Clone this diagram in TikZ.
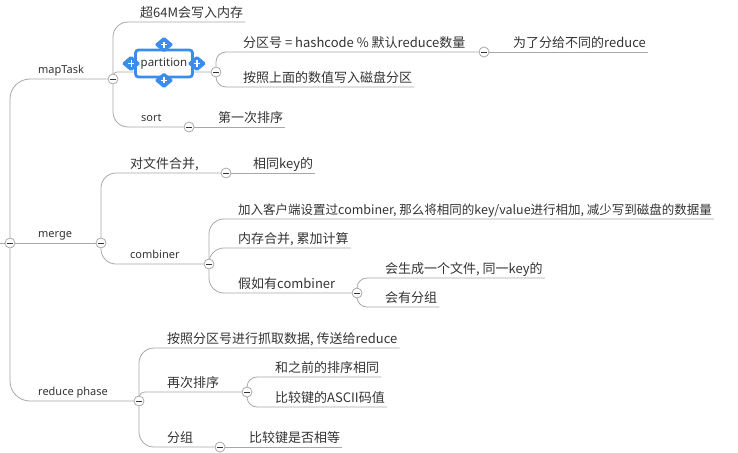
\documentclass[tikz,border=0pt]{standalone}
\usepackage{fontspec}
\setmainfont{Noto Sans CJK SC}
\newfontfamily\labelfont{Noto Sans}
\usepackage{tikz}
\usetikzlibrary{shapes.geometric,backgrounds}

\definecolor{linegray}{HTML}{A8A8A8}
\definecolor{textgray}{HTML}{333333}
\definecolor{selblue}{HTML}{3C8CEC}

\begin{document}
\begin{tikzpicture}[
    x=1pt, y=-1pt,
    topic/.style={anchor=south west, inner xsep=2pt, inner ysep=0pt, text depth=4pt, text=textgray, font=\fontsize{13}{13}\selectfont},
    sub/.style={anchor=south west, inner xsep=2pt, inner ysep=0pt, text depth=5pt, text=textgray, font=\labelfont\fontsize{11}{11}\selectfont},
    fold/.style={circle, draw=linegray, fill=white, line width=0.8pt, minimum size=10pt, inner sep=0pt,
        path picture={\draw[textgray, line width=0.9pt] ([xshift=-2.6pt]path picture bounding box.center) -- ([xshift=2.6pt]path picture bounding box.center);}},
    branch/.style={draw=linegray, line width=0.8pt, rounded corners=15pt},
    handle/.style={diamond, fill=selblue, rounded corners=1.5pt, minimum width=19pt, minimum height=16pt, inner sep=0pt,
        path picture={\draw[white, line width=1.2pt] ([xshift=-3pt]path picture bounding box.center) -- ([xshift=3pt]path picture bounding box.center)
            ([yshift=-3pt]path picture bounding box.center) -- ([yshift=3pt]path picture bounding box.center);}}
]
\useasboundingbox (0,0) rectangle (738,452);

% root
\coordinate (rootin) at (0,243);
\node[fold] (root) at (10,243) {};

% mapTask
\node[sub] (maptask) at (36,79) {mapTask};
\node[fold] (c-map) at (113,79) {};
\node[topic] (t-mem) at (138,22) {超64M会写入内存};
\node[fold] (c-part) at (216,72) {};
\node[draw=selblue, line width=2.8pt, fill=white, rounded corners=3pt, minimum width=57pt, minimum height=27pt,
    inner sep=1pt, text=textgray, font=\labelfont\fontsize{11.5}{11.5}\selectfont] (part) at (164,63.5) {partition};
\node[handle] (h-top) at ([yshift=4pt]part.north) {};
\node[handle] (h-bot) at ([yshift=-2pt]part.south) {};
\node[handle] (h-left) at ([xshift=-3pt]part.west) {};
\node[handle] (h-right) at ([xshift=3pt]part.east) {};
\node[topic] (t-hash) at (241,52) {分区号 = hashcode \% 默认reduce数量};
\node[fold] (c-hash) at (484,52) {};
\node[topic] (t-diff) at (511,52) {为了分给不同的reduce};
\node[topic] (t-disk) at (241,87) {按照上面的数值写入磁盘分区};
\node[sub] (sort) at (139,127) {sort};
\node[fold] (c-sort) at (189,127) {};
\node[topic] (t-first) at (216,127) {第一次排序};

% merge
\node[sub] (merge) at (36,243) {merge};
\node[fold] (c-merge) at (101,243) {};
\node[topic] (t-file) at (128,173) {对文件合并,};
\node[fold] (c-file) at (226,173) {};
\node[topic] (t-key) at (251,173) {相同key的};
\node[sub] (comb) at (128,264) {combiner};
\node[fold] (c-comb) at (209,264) {};
\node[topic, font=\fontsize{12.5}{12.5}\selectfont] (t-add) at (236,219) {加入客户端设置过combiner, 那么将相同的key/value进行相加, 减少写到磁盘的数据量};
\node[topic] (t-sum) at (236,248) {内存合并, 累加计算};
\node[topic] (t-if) at (236,293) {假如有combiner};
\node[fold] (c-if) at (357,293) {};
\node[topic] (t-gen) at (383,278) {会生成一个文件, 同一key的};
\node[topic] (t-grp) at (383,307) {会有分组};

% reduce phase
\node[sub] (reduce) at (36,401) {reduce phase};
\node[fold] (c-red) at (139,401) {};
\node[topic] (t-fetch) at (165,348) {按照分区号进行抓取数据, 传送给reduce};
\node[topic] (t-resort) at (165,392) {再次排序};
\node[fold] (c-resort) at (247,392) {};
\node[topic] (t-same) at (273,377) {和之前的排序相同};
\node[topic] (t-ascii) at (273,407) {比较键的ASCII码值};
\node[topic] (t-group) at (165,447) {分组};
\node[fold] (c-group) at (220,447) {};
\node[topic] (t-eq) at (247,447) {比较键是否相等};

\begin{scope}[on background layer]
\draw[branch] (rootin) -- (root);
\draw[branch, rounded corners=20pt] (root) |- (c-map);
\draw[branch] (root) -- (c-merge);
\draw[branch, rounded corners=20pt] (root) |- (c-red);
% mapTask
\draw[branch] (c-map) |- (t-mem.south east);
\draw[branch, rounded corners=4pt] (c-map) |- (c-part);
\draw[branch] (c-map) |- (c-sort);
\draw[branch] (c-sort) -- (t-first.south east);
\draw[branch, rounded corners=10pt] (c-part) |- (c-hash);
\draw[branch] (c-hash) -- (t-diff.south east);
\draw[branch, rounded corners=10pt] (c-part) |- (t-disk.south east);
% merge
\draw[branch] (c-merge) |- (c-file);
\draw[branch] (c-file) -- (t-key.south east);
\draw[branch] (c-merge) |- (c-comb);
\draw[branch] (c-comb) |- (t-add.south east);
\draw[branch] (c-comb) |- (t-sum.south east);
\draw[branch] (c-comb) |- (c-if);
\draw[branch, rounded corners=10pt] (c-if) |- (t-gen.south east);
\draw[branch, rounded corners=10pt] (c-if) |- (t-grp.south east);
% reduce phase
\draw[branch] (c-red) |- (t-fetch.south east);
\draw[branch, rounded corners=6pt] (c-red) |- (c-resort);
\draw[branch] (c-red) |- (c-group);
\draw[branch, rounded corners=10pt] (c-resort) |- (t-same.south east);
\draw[branch, rounded corners=10pt] (c-resort) |- (t-ascii.south east);
\draw[branch] (c-group) -- (t-eq.south east);
\end{scope}
\end{tikzpicture}
\end{document}
